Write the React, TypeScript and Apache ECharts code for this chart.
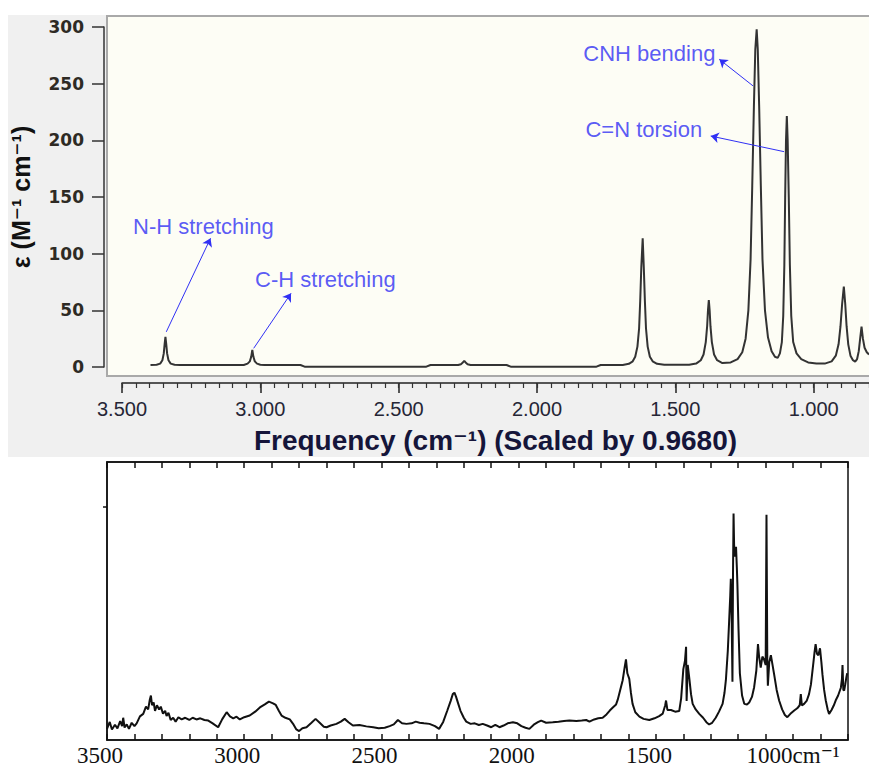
import React, { useEffect, useRef } from "react";
import * as echarts from "echarts";

// ---- Top chart (computed spectrum): [frequency cm^-1, epsilon]
const computedSpectrum: number[][] = [
  [3397, 1.8], [3375, 2], [3362, 3], [3354, 6], [3349, 12], [3346, 20], [3343, 26.5], [3340, 20], [3337, 12], [3332, 6], [3324, 3], [3310, 2], [3290, 1.8],
  [3060, 1.8], [3046, 3], [3038, 5], [3033, 9], [3029, 15], [3025, 9], [3020, 5], [3012, 3], [3000, 2], [2985, 1.8],
  [2855, 1.8], [2840, 0.3], [2400, 0.3], [2385, 1.8], [2285, 1.8], [2275, 2.5], [2268, 4], [2263, 5.5], [2258, 4], [2251, 2.5], [2240, 1.8],
  [2110, 1.8], [2095, 0.3], [1785, 0.3], [1770, 1.8],
  [1690, 1.8], [1668, 2.8], [1654, 5], [1645, 9], [1637, 18], [1631, 34], [1627, 58], [1623, 88], [1618, 113.5], [1614, 88], [1610, 58], [1606, 34], [1600, 18], [1592, 9], [1582, 5], [1566, 2.8], [1540, 2],
  [1450, 2], [1425, 3], [1408, 6], [1398, 11], [1390, 22], [1385, 36], [1382, 50], [1379, 59], [1376, 50], [1373, 36], [1368, 22], [1360, 11], [1349, 6], [1330, 3.5],
  [1300, 4], [1275, 7], [1258, 13], [1246, 25], [1236, 50], [1228, 95], [1222, 160], [1216, 230], [1211, 280], [1206, 298], [1202, 280], [1197, 230], [1191, 160], [1185, 95], [1176, 50], [1165, 26], [1152, 14], [1140, 9], [1130, 8], [1122, 12],
  [1115, 22], [1110, 45], [1106, 90], [1103, 150], [1100, 200], [1097, 221.5], [1094, 200], [1090, 150], [1086, 90], [1081, 45], [1074, 22], [1062, 12], [1045, 7], [1020, 4], [990, 3], [960, 3],
  [935, 5], [920, 10], [910, 20], [903, 36], [897, 56], [891, 71], [886, 56], [881, 36], [875, 20], [867, 10], [858, 6], [850, 4.7], [843, 7], [837, 14], [832, 25], [827, 35.6], [822, 25], [816, 17], [808, 13], [800, 11],
];

const topMajorTicks = [3500, 3000, 2500, 2000, 1500, 1000];
const topYTicks = [0, 50, 100, 150, 200, 250, 300];

// annotation texts [frequency, epsilon, text]
const annotationTexts: [number, number, string][] = [
  [3206, 124.4, "N-H stretching"],
  [2765, 77.6, "C-H stretching"],
  [1594, 276.8, "CNH bending"],
  [1614, 209.7, "C=N torsion"],
];
// arrows: from [freq, eps] to [freq, eps]
const annotationArrows: [number, number, number, number][] = [
  [3340, 31, 3180, 113.6],
  [3024, 16.5, 2889, 65],
  [1219, 248, 1341, 271.5],
  [1107, 190, 1372, 203.8],
];

// ---- Bottom chart (experimental spectrum): [frequency cm^-1, relative absorbance]
const experimentalSpectrum: number[][] = [
  [3500, 4.0], [3490, 6.5], [3482, 3.8], [3471, 5.5], [3462, 4.2], [3452, 6.8], [3445, 5.0], [3441, 8.0], [3436, 4.5], [3428, 5.6], [3420, 4.0], [3410, 6.2], [3400, 5.0], [3392, 6.0], [3380, 8.5], [3368, 9.4], [3358, 12.0], [3350, 11.0], [3344, 14.5], [3340, 16.0], [3336, 12.5], [3330, 13.5], [3325, 10.5], [3318, 12.5], [3310, 11.0], [3304, 12.0], [3296, 9.5], [3288, 10.5], [3283, 8.6], [3276, 9.8], [3268, 7.2], [3259, 8.0], [3250, 6.6], [3240, 8.2], [3228, 7.4], [3215, 8.0], [3200, 7.2], [3188, 8.0], [3174, 7.4], [3160, 7.8], [3145, 7.2], [3131, 7.0], [3115, 6.0], [3095, 4.6], [3080, 7.5], [3064, 10.0], [3052, 8.5], [3040, 7.8], [3028, 8.4], [3016, 7.4], [3000, 8.2], [2980, 8.8], [2960, 10.2], [2943, 11.7], [2925, 12.8], [2910, 13.8], [2895, 13.2], [2885, 12.6], [2874, 10.5], [2864, 8.8], [2850, 8.0], [2834, 7.4], [2820, 5.5], [2810, 3.8], [2800, 3.2], [2788, 4.2], [2773, 4.6], [2755, 6.2], [2740, 7.6], [2725, 6.2], [2710, 4.8], [2700, 4.6], [2685, 5.2], [2664, 5.8], [2648, 6.6], [2634, 7.6], [2620, 6.4], [2604, 5.2], [2580, 5.4], [2555, 4.9], [2530, 4.6], [2510, 4.2], [2488, 4.4], [2470, 5.0], [2455, 5.6], [2440, 7.2], [2425, 6.0], [2409, 5.8], [2390, 6.0], [2375, 6.6], [2361, 6.2], [2345, 6.0], [2325, 5.8], [2305, 5.0], [2290, 4.0], [2275, 6.5], [2260, 10.6], [2248, 14.0], [2240, 16.5], [2234, 17.0], [2228, 15.5], [2220, 13.0], [2212, 10.5], [2200, 8.0], [2191, 6.6], [2175, 5.8], [2160, 6.0], [2145, 5.4], [2131, 5.8], [2115, 5.2], [2100, 4.6], [2085, 5.4], [2070, 4.6], [2055, 5.2], [2040, 6.0], [2021, 6.4], [2005, 6.0], [1990, 5.0], [1975, 4.4], [1961, 4.0], [1945, 5.5], [1930, 6.4], [1918, 7.0], [1900, 6.2], [1876, 6.4], [1855, 6.6], [1835, 6.8], [1815, 7.0], [1790, 6.8], [1770, 7.0], [1754, 7.2], [1742, 6.6], [1725, 7.4], [1710, 7.8], [1694, 8.0], [1680, 9.2], [1668, 10.6], [1657, 11.7], [1645, 12.8], [1639, 14.5], [1630, 18.0], [1621, 21.5], [1614, 26.0], [1609, 29.0], [1604, 24.0], [1597, 22.0], [1591, 17.0], [1585, 13.0], [1575, 10.0], [1560, 8.4], [1545, 7.6], [1524, 7.2], [1505, 7.8], [1488, 8.6], [1475, 9.5], [1466, 12.5], [1463, 14.2], [1458, 10.8], [1445, 10.8], [1430, 10.2], [1415, 10.4], [1408, 15.0], [1400, 25.5], [1394, 28.5], [1390, 33.5], [1388, 14.0], [1384, 27.0], [1378, 22.0], [1372, 16.5], [1366, 13.0], [1355, 11.0], [1342, 9.4], [1328, 8.0], [1316, 6.4], [1306, 5.6], [1295, 6.2], [1282, 8.0], [1270, 10.2], [1257, 13.0], [1250, 17.0], [1245, 21.5], [1238, 32.0], [1233, 43.0], [1229, 52.0], [1227, 58.0], [1224, 45.0], [1221, 21.0], [1219, 60.0], [1217, 81.5], [1215, 70.0], [1212, 66.0], [1208, 69.5], [1205, 62.0], [1203, 56.0], [1199, 40.0], [1194, 24.0], [1186, 16.0], [1178, 13.0], [1168, 12.8], [1160, 13.5], [1150, 15.5], [1142, 19.0], [1134, 25.0], [1128, 34.5], [1124, 30.0], [1118, 26.0], [1112, 30.0], [1106, 29.0], [1100, 27.0], [1097, 81.0], [1094, 28.0], [1092, 19.5], [1087, 28.0], [1081, 30.5], [1075, 27.0], [1069, 23.5], [1060, 18.0], [1051, 14.2], [1040, 11.0], [1030, 9.0], [1021, 8.2], [1010, 9.4], [996, 10.6], [985, 11.4], [976, 12.5], [972, 16.5], [968, 12.4], [960, 13.0], [950, 14.2], [942, 16.5], [935, 20.0], [927, 27.0], [922, 31.5], [918, 34.5], [913, 31.0], [908, 30.5], [902, 33.0], [897, 28.0], [893, 23.5], [887, 18.0], [881, 14.2], [874, 11.0], [869, 9.4], [860, 10.8], [852, 12.4], [845, 14.2], [836, 16.0], [826, 18.8], [822, 22.0], [820, 27.0], [817, 18.0], [814, 17.8], [810, 20.0], [806, 22.5], [803, 24.0],
];
const bottomLabelTicks = [3500, 3000, 2500, 2000, 1500, 1000];
const bottomLeftTicks = [84];

const dotted = (v: number) => {
  const s = String(v);
  return s.slice(0, s.length - 3) + "." + s.slice(s.length - 3);
};

export default function App() {
  const ref = useRef<HTMLDivElement>(null);
  useEffect(() => {
    if (!ref.current) return;
    const chart = echarts.init(ref.current, undefined, { renderer: "svg" });
    const blue = "#3030f4";
    const option: any = {
      animation: false,
      graphic: [
        { type: "rect", z: -10, silent: true, shape: { x: 8, y: 15, width: 861, height: 442 }, style: { fill: "#f0f0f0" } },
        { type: "rect", z: -9, silent: true, shape: { x: 107, y: 16, width: 770, height: 360 }, style: { fill: "#fdfdf5", stroke: "#a9a9a9", lineWidth: 2 } },
      ],
      grid: [
        { left: 118, top: 27, width: 753, height: 340, containLabel: false },
        { left: 107, top: 462, width: 741, height: 281, show: true, borderColor: "#111", borderWidth: 1.5, backgroundColor: "transparent" },
      ],
      xAxis: [
        {
          gridIndex: 0, type: "value", inverse: true, min: 800, max: 3500, position: "bottom", offset: 16,
          axisLine: { show: true, onZero: false, lineStyle: { color: "#222", width: 1.5 } },
          axisTick: { show: true, customValues: topMajorTicks, length: 10, lineStyle: { color: "#222", width: 1.5 } },
          axisLabel: { show: true, customValues: topMajorTicks, formatter: (v: number) => dotted(v), fontSize: 20, fontFamily: "Liberation Sans", color: "#262636", margin: 16, alignMinLabel: "center", alignMaxLabel: "center" },
          splitLine: { show: false },
          name: "Frequency (cm⁻¹) (Scaled by 0.9680)", nameLocation: "middle", nameGap: 43,
          nameTextStyle: { fontSize: 28, fontWeight: "bold", fontFamily: "Liberation Sans, DejaVu Sans", color: "#15153a" },
        },
        {
          gridIndex: 0, type: "value", inverse: true, min: 800, max: 3500, interval: 50, position: "bottom", offset: 16,
          axisLine: { show: false, onZero: false },
          axisTick: { show: true, length: 5, lineStyle: { color: "#333", width: 1.2 } },
          axisLabel: { show: false }, splitLine: { show: false },
        },
        {
          gridIndex: 1, type: "value", inverse: true, min: 800, max: 3500, interval: 100, position: "bottom",
          axisLine: { show: true, onZero: false, lineStyle: { color: "#111", width: 1.5 } },
          axisTick: { show: true, inside: true, length: 6, lineStyle: { color: "#111", width: 1.5 } },
          axisLabel: {
            show: true, customValues: bottomLabelTicks, margin: 4, alignMinLabel: "center", alignMaxLabel: "center",
            formatter: (v: number) => (v === 1000 ? "{c|1000cm⁻¹}" : "{n|" + v + "}"),
            rich: {
              n: { fontSize: 23, fontFamily: "Liberation Serif", color: "#111", padding: [0, 14, 0, 0] },
              c: { fontSize: 23, fontFamily: "Liberation Serif, DejaVu Serif", color: "#111" },
            },
          },
          splitLine: { show: false },
        },
        {
          gridIndex: 1, type: "value", inverse: true, min: 800, max: 3500, interval: 100, position: "top",
          axisLine: { show: true, onZero: false, lineStyle: { color: "#111", width: 1.5 } },
          axisTick: { show: true, inside: true, length: 6, lineStyle: { color: "#111", width: 1.5 } },
          axisLabel: { show: false }, splitLine: { show: false },
        },
      ],
      yAxis: [
        {
          gridIndex: 0, type: "value", min: 0, max: 300, interval: 50, offset: 18,
          axisLine: { show: true, lineStyle: { color: "#333", width: 1.5 } },
          axisTick: { show: true, length: 12, lineStyle: { color: "#333", width: 1.5 } },
          axisLabel: { show: true, customValues: topYTicks, fontSize: 17, fontWeight: "bold", fontFamily: "DejaVu Sans", color: "#2e2a24", margin: 20 },
          splitLine: { show: false },
          name: "ε (M⁻¹ cm⁻¹)", nameLocation: "middle", nameGap: 71, nameRotate: 90,
          nameTextStyle: { fontSize: 25, fontWeight: "bold", fontFamily: "Liberation Sans, DejaVu Sans", color: "#111" },
        },
        {
          gridIndex: 1, type: "value", min: 0, max: 100,
          axisLine: { show: true, lineStyle: { color: "#111", width: 1.5 } },
          axisTick: { show: true, customValues: bottomLeftTicks, length: 4, lineStyle: { color: "#111", width: 1.5 } },
          axisLabel: { show: false }, splitLine: { show: false },
        },
      ],
      series: [
        {
          type: "line", xAxisIndex: 0, yAxisIndex: 0, data: computedSpectrum, symbol: "none", z: 3,
          lineStyle: { color: "#333", width: 2 },
          markLine: {
            silent: true, symbol: ["none", "arrow"], symbolSize: 8, animation: false,
            lineStyle: { color: blue, width: 1, type: "solid" }, label: { show: false },
            emphasis: { disabled: true },
            data: annotationArrows.map(([x1, y1, x2, y2]) => [{ coord: [x1, y1] }, { coord: [x2, y2] }]),
          },
        },
        {
          type: "scatter", xAxisIndex: 0, yAxisIndex: 0, symbolSize: 0, silent: true, z: 4,
          data: annotationTexts.map(([x, y, t]) => ({ value: [x, y], name: t })),
          label: { show: true, position: "inside", formatter: (p: any) => p.name, color: blue, fontSize: 22, fontFamily: "Liberation Sans" },
        },
        {
          type: "line", xAxisIndex: 2, yAxisIndex: 1, data: experimentalSpectrum, symbol: "none", z: 3,
          lineStyle: { color: "#111", width: 2 },
        },
      ],
    };
    chart.setOption(option);
    return () => chart.dispose();
  }, []);
  return <div ref={ref} style={{ position: "absolute", left: 0, top: 0, width: 869, height: 767, background: "#fff" }} />;
}
